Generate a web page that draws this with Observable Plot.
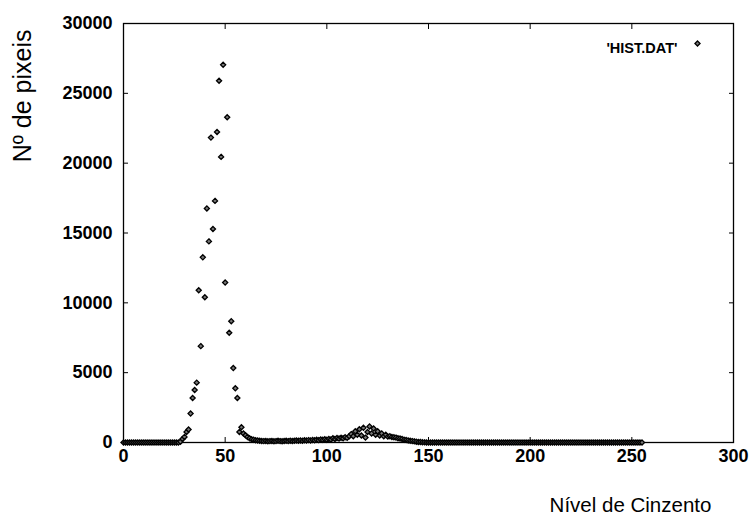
<!DOCTYPE html>
<html>
<head>
<meta charset="utf-8">
<script src="https://cdn.jsdelivr.net/npm/d3@7"></script>
<script src="https://cdn.jsdelivr.net/npm/@observablehq/plot@0.6"></script>
<style>
  html, body { margin: 0; padding: 0; background: white; }
</style>
</head>
<body>
<div id="chart"></div>
<script>
// Histogram counts, index = grey level (0..255)
const countsDark = [0,0,0,0,0,0,0,0,0,0,0,0,0,0,0,0,0,0,0,0,0,0,0,0,0,0,0,0]; // 0-27
const countsPeak = [60,250,400,757,929,2071,3186,3757,4286,10900,6900,13257,10400,16757,14400,
  21829,15286,17300,22236,25900,20450,27043,11450,23286,7857,8686,5329,3879,3186,757,1093]; // 28-58
const countsTail = [640,520,400,300,230,190,160,140,120,110,100,110,90,100,110,90,100,120,100,90,
  110,120,100,130,110,120,140,120,150,130,160,140,170,150,180,160,190,170,210,190,230]; // 59-99
const countsBump = [200,250,220,300,250,320,280,340,300,380,330,450,600,450,800,550,950,500,1050,350,
  750,1150,650,1000,550,800,500,650,450,550,420,450,400,380,350,300,280,250,200,180,
  150,120,100,80,60,40,30,20,10]; // 100-148
const countsBright = [0,0,0,0,0,0,0,0,0,0,0,0,0,0,0,0,0,0,0,0,0,0,0,0,0,0,0,0,0,0,0,0,0,0,0,0,0,0,0,0,
  0,0,0,0,0,0,0,0,0,0,0,0,0,0,0,0,0,0,0,0,0,0,0,0,0,0,0,0,0,0,0,0,0,0,0,0,0,0,0,0,
  0,0,0,0,0,0,0,0,0,0,0,0,0,0,0,0,0,0,0,0,0,0,0,0,0,0,0]; // 149-255

const counts = [...countsDark, ...countsPeak, ...countsTail, ...countsBump, ...countsBright];
const xTicks = [0, 50, 100, 150, 200, 250, 300];
const yTicks = [0, 5000, 10000, 15000, 20000, 25000, 30000];
const seriesName = ["'HIST.DAT'"];
const xTitle = ["Nível de Cinzento"];
const yTitle = ["Nº de pixeis"];

const data = counts.map((c, i) => ({level: i, count: c}));

const dotStyle = {symbol: "diamond2", r: 2.3, stroke: "#000", fill: "#777", strokeWidth: 1.3};
const tickStyle = {fontSize: 18, fontWeight: "bold", label: null, tickFormat: d3.format("d")};

const chart = Plot.plot({
  width: 750,
  height: 516,
  marginLeft: 123,
  marginRight: 17,
  marginTop: 23,
  marginBottom: 74,
  style: {fontFamily: "'Liberation Sans', Arial, sans-serif", background: "white", color: "black"},
  x: {domain: [0, 300]},
  y: {domain: [0, 30000]},
  marks: [
    Plot.axisX(xTicks, {anchor: "bottom", tickSize: -5, tickFormat: () => "", label: null}),
    Plot.axisX(xTicks, {anchor: "top", tickSize: -5, tickFormat: () => "", label: null}),
    Plot.axisY(yTicks, {anchor: "left", tickSize: -5, tickFormat: () => "", label: null}),
    Plot.axisY(yTicks, {anchor: "right", tickSize: -5, tickFormat: () => "", label: null}),
    Plot.axisX(xTicks, {anchor: "bottom", tickSize: 0, tickPadding: 7, ...tickStyle}),
    Plot.axisY(yTicks, {anchor: "left", tickSize: 0, tickPadding: 11, ...tickStyle}),
    Plot.frame({stroke: "black", strokeWidth: 1.3}),
    Plot.dot(data, {x: "level", y: "count", ...dotStyle}),
    Plot.text(seriesName, {frameAnchor: "top-right", dx: -56, dy: 19, textAnchor: "end", fontWeight: "bold", fontSize: 14.5}),
    Plot.dot(seriesName, {frameAnchor: "top-right", dx: -36, dy: 20, ...dotStyle}),
    Plot.text(yTitle, {frameAnchor: "top-left", rotate: -90, textAnchor: "end", lineAnchor: "middle", dx: -101, dy: 6, fontSize: 25}),
    Plot.text(xTitle, {frameAnchor: "bottom-right", textAnchor: "middle", lineAnchor: "middle", dx: -103, dy: 63, fontSize: 20.5})
  ]
});
document.getElementById("chart").appendChild(chart);
</script>
</body>
</html>
